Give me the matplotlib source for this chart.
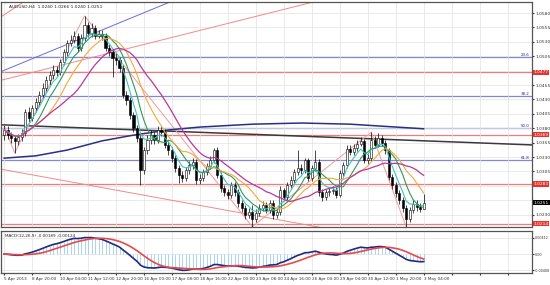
import numpy as np
import pandas as pd
import matplotlib
matplotlib.use("Agg")
import matplotlib.pyplot as plt
from matplotlib.transforms import blended_transform_factory

symbol = "AUDUSD,H4"

# H4 candles, 5 Apr 2013 16:00 .. 3 May 2013 04:00
opens = [
    1.0368, 1.0377, 1.0368, 1.0363, 1.0358, 1.0365, 1.0372, 1.0408, 1.0398, 1.0415,
    1.0425, 1.0438, 1.0450, 1.0464, 1.0472, 1.0481, 1.0478, 1.0495, 1.0512, 1.0528,
    1.0533, 1.0540, 1.0519, 1.0537, 1.0559, 1.0545, 1.0554, 1.0540, 1.0544, 1.0540,
    1.0519, 1.0512, 1.0502, 1.0498, 1.0485, 1.0438, 1.0429, 1.0403, 1.0380, 1.0363,
    1.0307, 1.0342, 1.0360, 1.0368, 1.0360, 1.0377, 1.0373, 1.0351, 1.0342, 1.0328,
    1.0311, 1.0299, 1.0294, 1.0307, 1.0316, 1.0321, 1.0290, 1.0294, 1.0304, 1.0314,
    1.0325, 1.0342, 1.0299, 1.0276, 1.0269, 1.0264, 1.0281, 1.0269, 1.0250, 1.0241,
    1.0229, 1.0235, 1.0222, 1.0233, 1.0241, 1.0247, 1.0238, 1.0250, 1.0229, 1.0235,
    1.0273, 1.0261, 1.0281, 1.0290, 1.0304, 1.0311, 1.0307, 1.0325, 1.0294, 1.0311,
    1.0321, 1.0269, 1.0261, 1.0269, 1.0271, 1.0273, 1.0264, 1.0302, 1.0316, 1.0344,
    1.0339, 1.0346, 1.0353, 1.0358, 1.0325, 1.0328, 1.0360, 1.0351, 1.0363, 1.0354,
    1.0342, 1.0295, 1.0281, 1.0267, 1.0255, 1.0241, 1.0222, 1.0238, 1.0248, 1.0244,
    1.0240,
]
highs = [
    1.0385, 1.0383, 1.0374, 1.0368, 1.0370, 1.0378, 1.0414, 1.0416, 1.0420, 1.0433,
    1.0444, 1.0458, 1.0470, 1.0480, 1.0490, 1.0488, 1.0500, 1.0518, 1.0534, 1.0541,
    1.0548, 1.0546, 1.0543, 1.0575, 1.0565, 1.0562, 1.0559, 1.0550, 1.0551, 1.0546,
    1.0526, 1.0518, 1.0510, 1.0503, 1.0490, 1.0445, 1.0434, 1.0408, 1.0386, 1.0368,
    1.0348, 1.0368, 1.0377, 1.0374, 1.0383, 1.0384, 1.0378, 1.0357, 1.0347, 1.0333,
    1.0316, 1.0305, 1.0313, 1.0323, 1.0328, 1.0326, 1.0300, 1.0310, 1.0320, 1.0331,
    1.0346, 1.0348, 1.0304, 1.0281, 1.0275, 1.0287, 1.0286, 1.0274, 1.0256, 1.0247,
    1.0242, 1.0246, 1.0239, 1.0248, 1.0253, 1.0252, 1.0256, 1.0255, 1.0241, 1.0280,
    1.0277, 1.0287, 1.0297, 1.0310, 1.0342, 1.0318, 1.0328, 1.0329, 1.0317, 1.0342,
    1.0326, 1.0274, 1.0275, 1.0277, 1.0280, 1.0278, 1.0308, 1.0322, 1.0350, 1.0351,
    1.0353, 1.0360, 1.0364, 1.0362, 1.0336, 1.0373, 1.0366, 1.0372, 1.0368, 1.0359,
    1.0346, 1.0300, 1.0286, 1.0272, 1.0260, 1.0246, 1.0244, 1.0255, 1.0256, 1.0250,
    1.0266,
]
lows = [
    1.0360, 1.0362, 1.0355, 1.0337, 1.0350, 1.0358, 1.0366, 1.0390, 1.0393, 1.0408,
    1.0419, 1.0432, 1.0444, 1.0455, 1.0466, 1.0470, 1.0472, 1.0490, 1.0506, 1.0522,
    1.0528, 1.0512, 1.0514, 1.0532, 1.0538, 1.0539, 1.0535, 1.0536, 1.0533, 1.0514,
    1.0505, 1.0469, 1.0490, 1.0478, 1.0432, 1.0420, 1.0396, 1.0373, 1.0356, 1.0281,
    1.0300, 1.0335, 1.0353, 1.0352, 1.0355, 1.0366, 1.0345, 1.0334, 1.0321, 1.0304,
    1.0285, 1.0287, 1.0289, 1.0301, 1.0310, 1.0284, 1.0284, 1.0289, 1.0298, 1.0309,
    1.0320, 1.0294, 1.0270, 1.0262, 1.0257, 1.0259, 1.0263, 1.0244, 1.0234, 1.0222,
    1.0224, 1.0209, 1.0217, 1.0228, 1.0236, 1.0232, 1.0233, 1.0222, 1.0224, 1.0230,
    1.0255, 1.0256, 1.0276, 1.0285, 1.0298, 1.0300, 1.0302, 1.0288, 1.0289, 1.0306,
    1.0262, 1.0254, 1.0256, 1.0263, 1.0265, 1.0258, 1.0260, 1.0297, 1.0311, 1.0333,
    1.0334, 1.0341, 1.0349, 1.0320, 1.0318, 1.0323, 1.0346, 1.0347, 1.0349, 1.0336,
    1.0290, 1.0275, 1.0261, 1.0249, 1.0235, 1.0209, 1.0217, 1.0233, 1.0237, 1.0234,
    1.0240,
]
closes = [
    1.0377, 1.0368, 1.0363, 1.0358, 1.0365, 1.0372, 1.0408, 1.0398, 1.0415, 1.0425,
    1.0438, 1.0450, 1.0464, 1.0472, 1.0481, 1.0478, 1.0495, 1.0512, 1.0528, 1.0533,
    1.0540, 1.0519, 1.0537, 1.0559, 1.0545, 1.0554, 1.0540, 1.0544, 1.0540, 1.0519,
    1.0512, 1.0502, 1.0498, 1.0485, 1.0438, 1.0429, 1.0403, 1.0380, 1.0363, 1.0307,
    1.0342, 1.0360, 1.0368, 1.0360, 1.0377, 1.0373, 1.0351, 1.0342, 1.0328, 1.0311,
    1.0299, 1.0294, 1.0307, 1.0316, 1.0321, 1.0290, 1.0294, 1.0304, 1.0314, 1.0325,
    1.0342, 1.0299, 1.0276, 1.0269, 1.0264, 1.0281, 1.0269, 1.0250, 1.0241, 1.0229,
    1.0235, 1.0222, 1.0233, 1.0241, 1.0247, 1.0238, 1.0250, 1.0229, 1.0235, 1.0273,
    1.0261, 1.0281, 1.0290, 1.0304, 1.0311, 1.0307, 1.0325, 1.0294, 1.0311, 1.0321,
    1.0269, 1.0261, 1.0269, 1.0271, 1.0273, 1.0264, 1.0302, 1.0316, 1.0344, 1.0339,
    1.0346, 1.0353, 1.0358, 1.0325, 1.0328, 1.0360, 1.0351, 1.0363, 1.0354, 1.0342,
    1.0295, 1.0281, 1.0267, 1.0255, 1.0241, 1.0222, 1.0238, 1.0248, 1.0244, 1.0240,
    1.0251,
]

date_labels = [
    "5 Apr 2013", "8 Apr 20:00", "10 Apr 04:00", "11 Apr 12:00", "12 Apr 20:00",
    "16 Apr 00:00", "17 Apr 08:00", "18 Apr 16:00", "22 Apr 00:00", "23 Apr 08:00",
    "24 Apr 16:00", "26 Apr 00:00", "29 Apr 04:00", "30 Apr 12:00", "1 May 20:00",
    "3 May 04:00",
]
price_ticks = [1.0230, 1.0255, 1.0280, 1.0305, 1.0330, 1.0355, 1.0380, 1.0405,
               1.0430, 1.0455, 1.0480, 1.0505, 1.0530, 1.0555, 1.0580]

red_levels = [1.0477, 1.0369, 1.0283, 1.0214]
fib_levels = [1.0504, 1.0436, 1.0380, 1.0325]
fib_names = ["23.6", "38.2", "50.0", "61.8"]

# long moving average
slow_ma_idx = [0, 9, 18, 28, 37, 47, 56, 71, 85, 99, 120]
slow_ma_val = [1.0328, 1.0332, 1.0342, 1.0358, 1.0368, 1.0377, 1.0382, 1.0387,
               1.0389, 1.0387, 1.0379]

zigzag_idx = [0, 3, 23, 71, 105, 115]
zigzag_val = [1.0385, 1.0337, 1.0575, 1.0209, 1.0373, 1.0209]

# trend lines: (bar, price) -> (bar, price)
trend_lines = [
    ((-1, 1.0386), (151, 1.0351), "#3a3a3a", 1.1),
    ((-1, 1.0478), (49, 1.0603), "#6b6bd6", 0.7),
    ((-1, 1.0463), (91, 1.0603), "#f08a8a", 0.7),
    ((-1, 1.0573), (6.5, 1.0603), "#f08a8a", 0.7),
    ((-1, 1.0309), (103, 1.0194), "#f08a8a", 0.7),
]

FS = 3.2

o = np.array(opens)
h = np.array(highs)
l = np.array(lows)
c = np.array(closes)
x = np.arange(len(c))
cs = pd.Series(closes)

fig = plt.figure(figsize=(5.5, 2.85), dpi=100)
ax = fig.add_axes([1 / 550, 1 - 227 / 285, 531 / 550, 225 / 285])
ax2 = fig.add_axes([1 / 550, 1 - 273 / 285, 531 / 550, 42 / 285], sharex=ax)

grid_x = np.arange(0, 151, 8)
for a in (ax, ax2):
    a.set_facecolor("white")
    for s in a.spines.values():
        s.set_color("#555555")
        s.set_linewidth(0.9)
    a.yaxis.tick_right()
    a.tick_params(axis="y", labelsize=FS, length=1.5, pad=1, colors="#333333")
    a.set_xticks(grid_x)
    a.grid(True, color="#e2e2e2", lw=0.5, zorder=0)

ax.set_xlim(-0.9, 151)
ax.set_ylim(1.02085, 1.05991)
ax.set_yticks(price_ticks)
# labels hidden behind the coloured price boxes are left blank
boxed = red_levels + [closes[-1]]
ax.set_yticklabels([
    "" if min(abs(p - b) for b in boxed) < 0.0009 else f"{p:.4f}"
    for p in price_ticks
])
ax.tick_params(axis="x", labelbottom=False, length=0)

# levels
for lv in red_levels:
    ax.axhline(lv, color="#f27a7a", lw=0.9, zorder=1)
for lv, nm in zip(fib_levels, fib_names):
    ax.axhline(lv, color="#8686cc", lw=0.9, zorder=1)
    ax.text(150.3, lv, nm, fontsize=FS - 0.3, color="#2b2b9a", ha="right", va="bottom")

for (x0, y0), (x1, y1), col, lw in trend_lines:
    ax.plot([x0, x1], [y0, y1], color=col, lw=lw, zorder=2)

ax.plot(zigzag_idx, zigzag_val, color="#f29a9a", lw=0.7, zorder=2)
ax.plot(slow_ma_idx, slow_ma_val, color="#2a2f86", lw=1.1, zorder=2)

# candles
up = c >= o
ax.vlines(x, l, h, color="black", lw=0.5, zorder=3)
ax.bar(x[up], (c - o)[up], bottom=o[up], width=0.6, color="white",
       edgecolor="black", lw=0.4, zorder=4)
ax.bar(x[~up], (o - c)[~up], bottom=c[~up], width=0.6, color="black",
       edgecolor="black", lw=0.4, zorder=4)

# moving averages
ma5 = cs.ewm(span=5, adjust=False).mean()
ma8 = cs.rolling(8, min_periods=1).mean()
ma13 = cs.rolling(13, min_periods=1).mean()
ma21 = cs.rolling(21, min_periods=1).mean()
ax.plot(x, ma5, color="#3cc6c6", lw=0.8, zorder=5)
ax.plot(x, ma8, color="#2e9a5c", lw=0.8, zorder=5)
ax.plot(x, ma13, color="#f2a93b", lw=0.8, zorder=5)
ax.plot(x, ma21, color="#b8379b", lw=0.9, zorder=5)

tr = blended_transform_factory(ax.transAxes, ax.transData)
for lv in red_levels:
    ax.text(1.003, lv, f"{lv:.4f}", transform=tr, fontsize=FS, color="white",
            ha="left", va="center", zorder=10, clip_on=False,
            bbox=dict(boxstyle="square,pad=0.15", fc="#e8322d", ec="none"))
ax.text(1.003, c[-1], f"{c[-1]:.4f}", transform=tr, fontsize=FS, color="white",
        ha="left", va="center", zorder=10, clip_on=False,
        bbox=dict(boxstyle="square,pad=0.15", fc="black", ec="none"))

ax.text(0.016, 0.985, f"{symbol}  {o[-1]:.4f} {h[-1]:.4f} {l[-1]:.4f} {c[-1]:.4f}",
        transform=ax.transAxes, fontsize=FS, color="#222222", ha="left", va="top")

# MACD
ema12 = cs.ewm(span=12, adjust=False).mean()
ema26 = cs.ewm(span=26, adjust=False).mean()
macd = ema12 - ema26
signal = macd.rolling(9, min_periods=1).mean()

ax2.vlines(x, 0, macd, color="#9ccdf0", lw=0.6, zorder=2)
ax2.plot(x, macd, color="#1f2a80", lw=1.2, zorder=3)
ax2.plot(x, signal, color="#e84a4a", lw=1.2, zorder=3)
mx, mn = macd.max(), macd.min()
rng = mx - mn
ax2.set_ylim(mn - 0.08 * rng, mx + 0.2 * rng)
ax2.set_yticks([mx, 0, mn])
ax2.set_yticklabels([f"{mx:.5f}", "0.00", f"{mn:.5f}"])
ax2.tick_params(axis="y", labelsize=2.4, pad=0.5, length=1.2)
ax2.text(0.008, 0.93, f"MACD(12,26,9) {macd.iloc[-1]:.5f} {signal.iloc[-1]:.5f}",
         transform=ax2.transAxes, fontsize=FS - 0.2, color="#222222", ha="left", va="top")

ax2.set_xticklabels(date_labels + [""] * (len(grid_x) - len(date_labels)))
ax2.tick_params(axis="x", labelsize=FS - 0.2, length=1.5, pad=1.5, colors="#333333")
for t in ax2.get_xticklabels():
    t.set_ha("left")

fig.savefig("out.png", dpi=100)
